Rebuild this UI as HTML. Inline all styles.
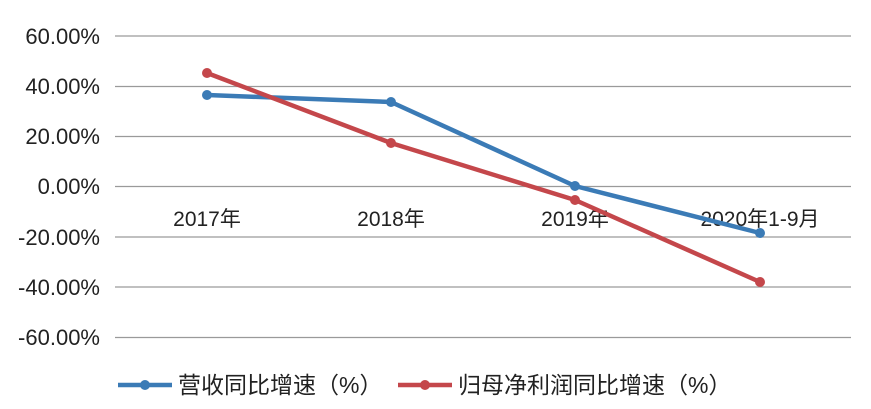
<!DOCTYPE html>
<html><head><meta charset="utf-8"><style>body{margin:0;background:#fff}svg{display:block}text{font-family:"Liberation Sans","Noto Sans CJK SC",sans-serif;fill:#222}</style></head><body>
<svg width="871" height="409" xmlns="http://www.w3.org/2000/svg">
<g stroke="#9a9a9a" stroke-width="1.2">
<line x1="115" y1="36" x2="851" y2="36"/><line x1="115" y1="86.5" x2="851" y2="86.5"/><line x1="115" y1="136.5" x2="851" y2="136.5"/><line x1="115" y1="186.5" x2="851" y2="186.5"/><line x1="115" y1="237" x2="851" y2="237"/><line x1="115" y1="287" x2="851" y2="287"/><line x1="115" y1="337.5" x2="851" y2="337.5"/>
</g>
<g font-size="22" text-anchor="end">
<text x="100" y="44">60.00%</text><text x="100" y="94">40.00%</text><text x="100" y="144">20.00%</text><text x="100" y="194">0.00%</text><text x="100" y="245">-20.00%</text><text x="100" y="295">-40.00%</text><text x="100" y="345">-60.00%</text>
</g>
<g font-size="21" text-anchor="middle">
<text x="207" y="226">2017年</text><text x="391" y="226">2018年</text><text x="575" y="226">2019年</text><text x="760" y="226">2020年1-9月</text>
</g>
<polyline points="207,95 391,102 575,186 760,233" fill="none" stroke="#3b7bb6" stroke-width="4.5" stroke-linejoin="round"/>
<polyline points="207,73 391,143 575,200 760,282" fill="none" stroke="#c4474b" stroke-width="4.5" stroke-linejoin="round"/>
<g fill="#3b7bb6"><circle cx="207" cy="95" r="5"/><circle cx="391" cy="102" r="5"/><circle cx="575" cy="186" r="5"/><circle cx="760" cy="233" r="5"/></g>
<g fill="#c4474b"><circle cx="207" cy="73" r="5"/><circle cx="391" cy="143" r="5"/><circle cx="575" cy="200" r="5"/><circle cx="760" cy="282" r="5"/></g>
<line x1="118" y1="385" x2="172" y2="385" stroke="#3b7bb6" stroke-width="4.5"/><circle cx="145" cy="385" r="5" fill="#3b7bb6"/>
<text x="178" y="393" font-size="23">营收同比增速（%）</text>
<line x1="398" y1="385" x2="452" y2="385" stroke="#c4474b" stroke-width="4.5"/><circle cx="425" cy="385" r="5" fill="#c4474b"/>
<text x="458" y="393" font-size="23">归母净利润同比增速（%）</text>
</svg>
</body></html>
